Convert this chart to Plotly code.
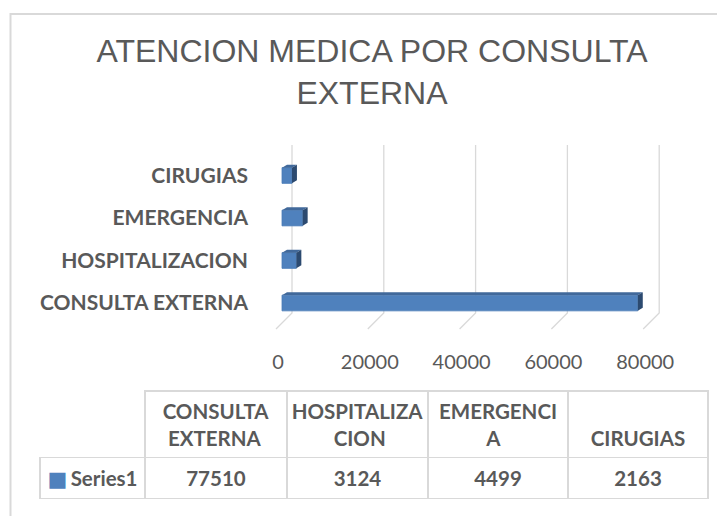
import plotly.graph_objects as go

# ---------------- data ----------------
categories = ["CONSULTA EXTERNA", "HOSPITALIZACION", "EMERGENCIA", "CIRUGIAS"]
values = [77510, 3124, 4499, 2163]
series_name = "Series1"
x_ticks = [0, 20000, 40000, 60000, 80000]
table_headers = [["CONSULTA", "EXTERNA"], ["HOSPITALIZA", "CION"], ["EMERGENCI", "A"], ["CIRUGIAS"]]
title_text = "ATENCION MEDICA POR CONSULTA<br>EXTERNA"

# ---------------- geometry / style ----------------
OFF = 8                      # page body margin of the html page
W, H = 725 - OFF, 516 - OFF


def fx(px):  # screen px -> paper x
    return (px - OFF) / W


def fy(py):  # screen px -> paper y
    return 1 - (py - OFF) / H


PX0 = 282.0                 # screen pixel of value 0 on bar front plane
U = 20000 / 91.8            # data units per pixel (x)
Y0_PX = 303.0               # screen pixel of category 0 centre
PPC = 42.5                  # pixels per category
PLOT_L, PLOT_R, PLOT_T, PLOT_B = 262, 700, 140, 348

BAR_W = 0.37
DX = 5 * U
DY = 3 / PPC

GRID_TOP = (Y0_PX - 145) / PPC
GRID_BACK_BOTTOM = -(313 - Y0_PX) / PPC
GRID_FRONT_BOTTOM = -(329 - Y0_PX) / PPC
GRID_BACK_OFF = 10 * U
GRID_FRONT_OFF = -6 * U

TXT = "#595959"
GRID = "#D9D9D9"
BLUE = "#4F81BD"
TOP_BLUE = "#41699B"
SIDE_BLUE = "#2C4A70"
FONT = "Lato"
TFONT = 20.5
NBSP_W = 5.2                # width of one no-break space in the table font


def approx_w(s):
    return 0.55 * TFONT * len(s)


def header_cell(lines):
    # centre every line of a multi-line header (plotly aligns the block, not each line)
    if len(lines) == 1:
        return "\u00a0<br><b>%s</b>" % lines[0]
    out = []
    w0 = max(approx_w(l) for l in lines)
    for l in lines:
        pad = int(round((w0 - approx_w(l)) / 2 / NBSP_W))
        out.append("\u00a0" * pad + "<b>%s</b>" % l)
    return "<br>".join(out)


ypos = list(range(len(categories)))

fig = go.Figure()

# top faces
tx, ty = [], []
for y, v in zip(ypos, values):
    top = y + BAR_W / 2
    tx += [0, v, v + DX, DX, 0, None]
    ty += [top, top, top + DY, top + DY, top, None]
fig.add_trace(go.Scatter(x=tx, y=ty, mode="lines", fill="toself", fillcolor=TOP_BLUE,
                         line=dict(width=0), hoverinfo="skip", showlegend=False))

# side faces
sx, sy = [], []
for y, v in zip(ypos, values):
    bot, top = y - BAR_W / 2, y + BAR_W / 2
    sx += [v, v + DX, v + DX, v, v, None]
    sy += [bot, bot + DY, top + DY, top, bot, None]
fig.add_trace(go.Scatter(x=sx, y=sy, mode="lines", fill="toself", fillcolor=SIDE_BLUE,
                         line=dict(width=0), hoverinfo="skip", showlegend=False))

# front faces
fig.add_trace(go.Bar(x=values, y=ypos, orientation="h", width=BAR_W,
                     marker=dict(color=BLUE, line=dict(color="#4A7CB8", width=0.8)),
                     name=series_name, showlegend=False))

# data table
legend_key = ("<span style='color:%s;font-family:DejaVu Sans;font-size:21px'>■</span>"
              "<span style='font-size:13px'> </span><b>%s</b><br>" % (BLUE, series_name))
fig.add_trace(go.Table(
    domain=dict(x=[fx(40), fx(708)], y=[fy(501), fy(391)]),
    columnwidth=[105, 142, 141, 140, 140],
    header=dict(
        values=[""] + [header_cell(h) for h in table_headers],
        height=58,
        align="center",
        fill=dict(color=["rgba(0,0,0,0)"] + ["white"] * 4),
        line=dict(color=["rgba(0,0,0,0)"] + [GRID] * 4, width=1.5),
        font=dict(family=FONT, size=TFONT, color=TXT),
    ),
    cells=dict(
        values=[[legend_key]] + [["<b>%d</b>" % v] for v in values],
        height=37,
        align="center",
        fill=dict(color="white"),
        line=dict(color=GRID, width=1.5),
        font=dict(family=FONT, size=TFONT, color=TXT),
    ),
))

# back-wall gridlines with floor diagonals (below the bars)
grid_shapes = []
for t in x_ticks:
    path = "M %f,%f L %f,%f L %f,%f" % (t + GRID_BACK_OFF, GRID_TOP,
                                        t + GRID_BACK_OFF, GRID_BACK_BOTTOM,
                                        t + GRID_FRONT_OFF, GRID_FRONT_BOTTOM)
    grid_shapes.append(dict(type="path", xref="x", yref="y", path=path, layer="below",
                            line=dict(color=GRID, width=1.3)))

fig.update_layout(
    width=W, height=H,
    margin=dict(l=0, r=0, t=0, b=0),
    paper_bgcolor="white", plot_bgcolor="white",
    title=dict(text=title_text, x=fx(372), xanchor="center", y=fy(62), yanchor="middle",
               yref="container",
               font=dict(family="Liberation Sans", size=32, color=TXT)),
    xaxis=dict(domain=[fx(PLOT_L), fx(PLOT_R)],
               range=[(PLOT_L - PX0) * U, (PLOT_R - PX0) * U],
               tickvals=x_ticks, ticktext=[str(t) for t in x_ticks],
               showgrid=False, zeroline=False, showline=False, ticks="",
               tickfont=dict(family=FONT, size=20, color=TXT),
               ticklabelshift=-4, ticklabelstandoff=0, automargin=False, fixedrange=True),
    yaxis=dict(domain=[fy(PLOT_B), fy(PLOT_T)],
               range=[-(PLOT_B - Y0_PX) / PPC, (Y0_PX - PLOT_T) / PPC],
               tickvals=ypos, ticktext=categories,
               showgrid=False, zeroline=False, showline=False, ticks="",
               tickfont=dict(family=FONT, size=21, color=TXT, weight="bold"),
               ticklabelstandoff=13, automargin=False, fixedrange=True),
    shapes=grid_shapes + [dict(type="rect", xref="paper", yref="paper",
                               x0=fx(10.5), x1=1.05, y0=-0.05, y1=fy(14),
                               line=dict(color=GRID, width=2), fillcolor="rgba(0,0,0,0)",
                               layer="below")],
    showlegend=False,
)

fig.write_html("out.html")
